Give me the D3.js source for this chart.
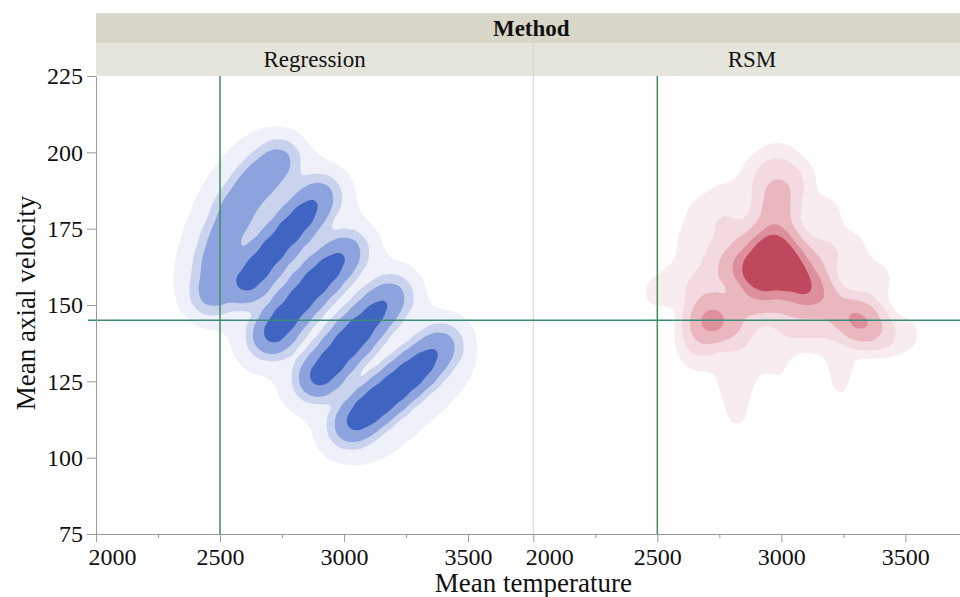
<!DOCTYPE html>
<html>
<head>
<meta charset="utf-8">
<script src="https://cdn.jsdelivr.net/npm/d3@7"></script>
<style>
body { margin: 0; background: #fff; }
text { font-family: "Liberation Serif", "Times New Roman", serif; fill: #111; }
</style>
</head>
<body>
<script>
var methods = ["Regression", "RSM"];
var xTicks = [2000, 2500, 3000, 3500];
var xMinor = [2250, 2750, 3250];
var yTicks = [75, 100, 125, 150, 175, 200, 225];
var refTemp = 2500, refVel = 145;

// [mean temperature, mean axial velocity, weight]
var regressionPts = [
    // band A
    [2472, 154.3, 0.5], [2486, 163.2, 0.5], [2514, 171.3, 0.5], [2559, 179.5, 0.58],
    [2607, 186.1, 0.5], [2668, 191.6, 0.58], [2734, 196.9, 0.42],
    // band B
    [2601, 156.6, 0.8], [2653, 162.2, 1], [2714, 168.1, 1], [2778, 174.0, 1],
    [2839, 179.5, 0.9], [2895, 185.1, 0.55],
    // band C
    [2710, 140.2, 0.9], [2762, 145.8, 1], [2823, 151.7, 1], [2883, 157.3, 1],
    [2943, 162.2, 0.9], [3004, 167.1, 0.55],
    // band D
    [2895, 126.2, 0.9], [2952, 131.4, 1], [3008, 137.0, 1], [3064, 141.9, 1],
    [3125, 147.4, 0.8], [3185, 152.4, 0.5],
    // band E
    [3032, 110.8, 0.7], [3089, 115.1, 1], [3145, 119.0, 1], [3206, 122.9, 1],
    [3266, 127.2, 1], [3327, 131.4, 0.8], [3387, 136.3, 0.5]
];

var rsmPts = [
    // core
    [2862, 162.2, 1], [2930, 167.4, 1], [2982, 169.7, 1], [2970, 161.5, 1.1],
    [3050, 159.2, 1], [3118, 156.0, 0.9], [2910, 157.6, 0.9], [3030, 164.8, 0.9],
    // flame
    [2982, 184.4, 0.4], [2974, 177.9, 0.55], [2990, 189.3, 0.25],
    // middle band
    [2769, 163.2, 0.35], [2717, 155.0, 0.3], [2689, 146.8, 0.3], [2669, 138.6, 0.25],
    [2789, 145.2, 0.3], [2870, 150.1, 0.4], [2970, 151.7, 0.4], [3070, 150.7, 0.4],
    [3171, 151.7, 0.4], [3251, 147.8, 0.35], [3391, 140.2, 0.25], [2830, 139.3, 0.22],
    [3030, 141.9, 0.22], [3150, 141.9, 0.22], [2809, 173.0, 0.3], [3150, 166.4, 0.3],
    // spots
    [2717, 144.5, 0.8], [3319, 144.5, 1.0],
    // faint outer
    [2990, 197.5, 0.15], [2910, 192.6, 0.15], [3070, 191.0, 0.15], [2789, 184.4, 0.15],
    [2689, 179.5, 0.15], [3171, 179.5, 0.15], [2649, 169.7, 0.15], [3271, 168.1, 0.15],
    [2609, 158.2, 0.15], [2508, 154.3, 0.12], [3371, 158.2, 0.15], [3492, 140.2, 0.12],
    // drips
    [2817, 128.8, 0.1], [2817, 122.3, 0.1], [2821, 112.4, 0.08], [3070, 119.0, 0.07],
    [3082, 106.9, 0.06], [3239, 132.1, 0.1], [3239, 122.3, 0.07], [3251, 112.4, 0.05],
    [2669, 132.1, 0.08], [2990, 128.8, 0.06], [2950, 133.7, 0.06]
];

var blueColors = ["#eef1f9", "#c9d3ee", "#8ca3dd", "#3f64c2"];
var redColors = ["#f8ecee", "#f3dadf", "#eab7bf", "#dd909c", "#c0485c"];

var width = 960, height = 597;
var padLeft = 96, padTop = 76;
var pw = 437.3, ph = 458;

var svg = d3.select("body").append("svg").attr("width", width).attr("height", height);

var x = d3.scaleLinear().domain([2000, 3763]).range([0, pw]);
var y = d3.scaleLinear().domain([75, 225]).range([ph, 0]);

// header bands
svg.append("rect").attr("x", padLeft).attr("y", 13).attr("width", width - padLeft).attr("height", 30.5).attr("fill", "#d9d7c8");
svg.append("rect").attr("x", padLeft).attr("y", 43.5).attr("width", width - padLeft).attr("height", 32.5).attr("fill", "#e6e5dc");
svg.append("text").attr("x", padLeft + pw - 2).attr("y", 36).attr("text-anchor", "middle")
    .attr("font-size", 23).attr("font-weight", "bold").text("Method");

svg.append("defs").append("clipPath").attr("id", "clip")
    .append("rect").attr("width", pw).attr("height", ph);

function drawDensity(g, pts, bw, fracs, colors) {
    var dens = d3.contourDensity()
        .x(d => x(d[0]))
        .y(d => y(d[1]))
        .weight(d => d[2])
        .size([pw, ph])
        .cellSize(2)
        .bandwidth(bw);
    var c = dens.contours(pts);
    fracs.forEach(function (f, i) {
        g.append("path").attr("d", d3.geoPath()(c(f * c.max))).attr("fill", colors[i]);
    });
}

methods.forEach(function (m, i) {
    var px = padLeft + i * pw;
    svg.append("text").attr("x", px + pw / 2).attr("y", 67).attr("text-anchor", "middle")
        .attr("font-size", 23).text(m);

    var g = svg.append("g").attr("transform", "translate(" + px + "," + padTop + ")");
    var plot = g.append("g").attr("clip-path", "url(#clip)");

    if (i == 0) {
        drawDensity(plot, regressionPts, 19, [0.04], [blueColors[0]]);
        drawDensity(plot, regressionPts, 11, [0.045, 0.16, 0.5], blueColors.slice(1));
    } else {
        drawDensity(plot, rsmPts, 13, [0.025, 0.075, 0.17, 0.34, 0.52], redColors);
    }

    // reference line for temperature
    plot.append("line").attr("x1", x(refTemp)).attr("x2", x(refTemp))
        .attr("y1", 0).attr("y2", ph).attr("stroke", "#3c8c5c").attr("stroke-width", 1.5);

    var xAxis = g.append("g").attr("transform", "translate(0," + ph + ")")
        .call(d3.axisBottom(x).tickValues(xTicks).tickFormat(d3.format("d"))
            .tickSize(8).tickSizeOuter(0).tickPadding(6));
    xAxis.selectAll("text").attr("font-size", 24).attr("font-family", "Liberation Serif").attr("fill", "#111");
    // first label of each panel sits to the right of its tick
    xAxis.selectAll(".tick text").filter(d => d == xTicks[0]).attr("text-anchor", "start").attr("x", -8);
    xAxis.select(".domain").attr("stroke", "#9a9a9a");
    xAxis.selectAll(".tick line").attr("stroke", "#9a9a9a");
    g.append("g").attr("transform", "translate(0," + ph + ")")
        .call(d3.axisBottom(x).tickValues(xMinor).tickSize(4).tickFormat(""))
        .call(s => s.select(".domain").remove())
        .selectAll("line").attr("stroke", "#9a9a9a");
});

// panel divider
svg.append("line").attr("x1", padLeft + pw).attr("x2", padLeft + pw).attr("y1", 43.5).attr("y2", padTop + ph)
    .attr("stroke", "#d2d2d2");

// horizontal reference line for velocity
svg.append("line").attr("x1", 88).attr("x2", width).attr("y1", padTop + y(refVel)).attr("y2", padTop + y(refVel))
    .attr("stroke", "#3a8c78").attr("stroke-width", 1.5);

var yAxis = svg.append("g").attr("transform", "translate(" + padLeft + "," + padTop + ")")
    .call(d3.axisLeft(y).tickValues(yTicks).tickSize(9).tickSizeOuter(0).tickPadding(4));
yAxis.selectAll("text").attr("font-size", 24).attr("font-family", "Liberation Serif").attr("fill", "#111");
yAxis.select(".domain").attr("stroke", "#9a9a9a");
yAxis.selectAll(".tick line").attr("stroke", "#9a9a9a");

svg.append("text").attr("x", padLeft + pw).attr("y", 592).attr("text-anchor", "middle")
    .attr("font-size", 27).text("Mean temperature");
svg.append("text").attr("transform", "translate(35," + 303 + ") rotate(-90)").attr("text-anchor", "middle")
    .attr("font-size", 27).text("Mean axial velocity");
</script>
</body>
</html>
